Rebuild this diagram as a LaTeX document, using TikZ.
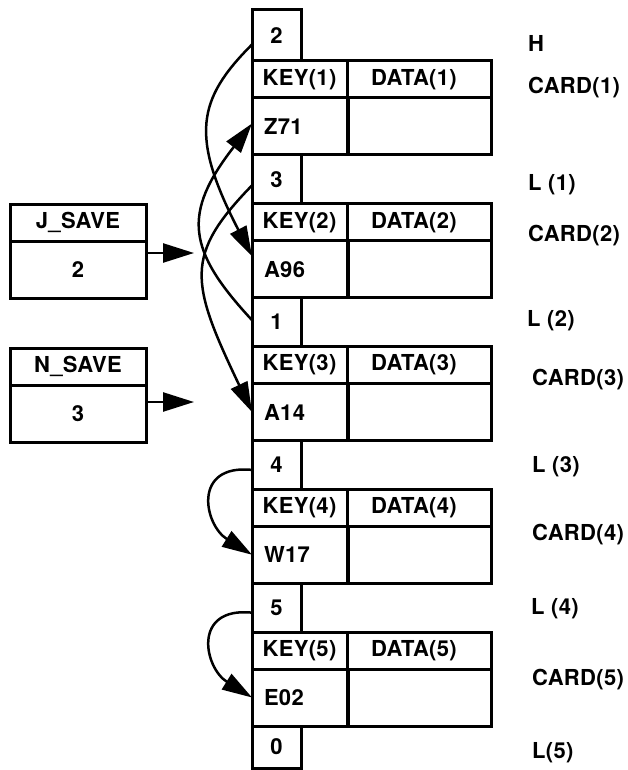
\documentclass[tikz,border=0pt]{standalone}
\usepackage{fontspec}
\setmainfont{TeX Gyre Heros}[LetterSpace=1.5]
\usetikzlibrary{arrows.meta,calc}
\newcommand\dfont{\fontsize{22}{26}\selectfont\bfseries}
\begin{document}
\begin{tikzpicture}[x=1pt,y=-1pt,
  cell/.style={draw,line width=3pt,inner sep=0pt,outer sep=0pt,anchor=north west,font=\dfont},
  keycell/.style={cell,minimum width=95,minimum height=37},
  datacell/.style={cell,minimum width=144,minimum height=37},
  valcell/.style={cell,minimum height=57,text width=72,inner xsep=12,align=left},
  emptycell/.style={cell,minimum width=144,minimum height=57},
  linkcell/.style={cell,minimum width=49},
  savehead/.style={cell,minimum width=136,minimum height=37},
  saveval/.style={cell,minimum width=136,minimum height=57},
  lab/.style={anchor=west,inner sep=0pt,font=\dfont},
  ptr/.style={line width=2.5pt,-{Triangle[length=30pt,width=18pt]}},
  ptrshort/.style={line width=2.5pt,-{Triangle[length=31pt,width=19pt]}}
]
\useasboundingbox (0,0) rectangle (628,770);

% link boxes
\node[linkcell,minimum height=51] (l0) at (252,10) {2};
\foreach \i/\n in {1/3,2/1,3/4,4/5}{
  \node[linkcell,minimum height=48.75] (l\i) at (252,{155+142.75*(\i-1)}) {\n};
}
\node[linkcell,minimum height=42] (l5) at (252,726) {0};

% cards
\foreach \i/\v in {1/Z71,2/A96,3/A14,4/W17,5/E02}{
  \node[keycell] (k\i) at (252,{61+142.75*(\i-1)}) {KEY(\i)};
  \node[datacell] (d\i) at (347,{61+142.75*(\i-1)}) {DATA(\i)\hspace*{10pt}};
  \node[valcell] (v\i) at (252,{98+142.75*(\i-1)}) {\v};
  \node[emptycell] (e\i) at (347,{98+142.75*(\i-1)}) {};
}

% save boxes
\node[savehead] (jh) at (10,204) {J\_SAVE};
\node[saveval] (jv) at (10,241) {2};
\node[savehead] (nh) at (10,348) {N\_SAVE};
\node[saveval] (nv) at (10,385) {3};

\coordinate (jt) at (194,253);
\coordinate (nt) at (194,402);
\draw[ptrshort] (jv.east |- jt) -- (jt);
\draw[ptrshort] (nv.east |- nt) -- (nt);

% right labels
\node[lab] (hl) at (528,43) {H};
\node[lab] (c1) at (528,88) {CARD(1)};
\node[lab] (L1) at (528,185) {L (1)};
\node[lab] (c2) at (528,236) {CARD(2)};
\node[lab] (L2) at (527,321) {L (2)};
\node[lab] (c3) at (532,380) {CARD(3)};
\node[lab] (L3) at (532,467) {L (3)};
\node[lab] (c4) at (532,535) {CARD(4)};
\node[lab] (L4) at (531,609) {L (4)};
\node[lab] (c5) at (532,680) {CARD(5)};
\node[lab] (L5) at (532,753) {L(5)};

% pointer curves
\draw[ptr] ($(l0.west)+(0,9)$) .. controls +(-55,55) and +(-62,-120) .. ($(v2.west)+(0,-13)$);
\draw[ptr] ($(l2.west)+(0,-2)$) .. controls +(-65,-70) and +(-70,90) .. ($(v1.west)+(0,-3)$);
\draw[ptr] ($(l1.west)+(0,6)$) .. controls +(-68,70) and +(-62,-130) .. (v3.west);
\draw[ptr] ($(l3.west)+(0,5)$) .. controls +(-60,-6) and +(-48,-30) .. (v4.west);
\draw[ptr] ($(l4.west)+(0,5)$) .. controls +(-60,-6) and +(-48,-30) .. (v5.west);
\end{tikzpicture}
\end{document}
